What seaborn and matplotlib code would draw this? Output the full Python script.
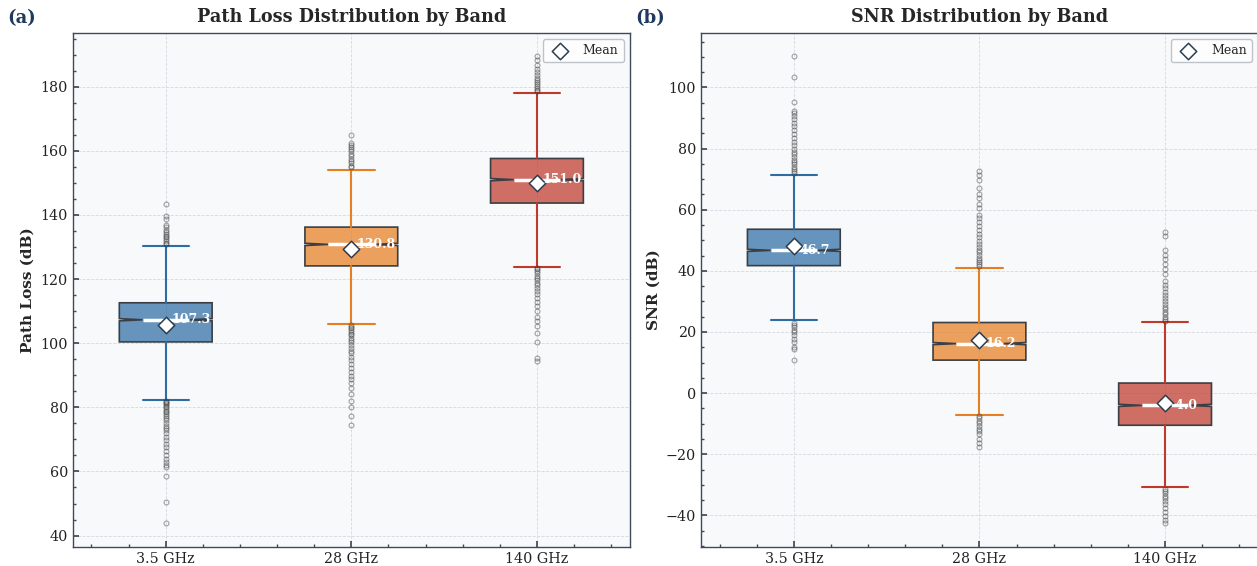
import numpy as np
import matplotlib
matplotlib.use("Agg")
import matplotlib.pyplot as plt
from matplotlib.colors import to_rgba
import seaborn as sns

# ---------------- data ----------------
bands = ["3.5 GHz", "28 GHz", "140 GHz"]
colors = ["#2e6da4", "#e67e22", "#c0392b"]

pl_q1 = [100.4, 124.1, 143.7]
pl_med = [107.3, 130.8, 151.0]
pl_q3 = [112.6, 136.2, 157.6]
pl_wlo = [82.3, 105.9, 123.9]
pl_whi = [130.4, 154.1, 177.9]
pl_mean = [105.7, 129.3, 150.0]
pl_out_35 = [143.4, 139.6, 138.8, 136.9, 136.2, 135.4, 134.6, 134.0, 133.5, 133.0, 132.4, 131.8, 131.2, 130.9,
             82.0, 81.7, 81.3, 80.9, 80.4, 80.0, 79.5, 79.0, 78.4, 77.9, 77.2, 76.6, 75.9, 75.1, 74.3, 73.6,
             72.8, 71.9, 70.8, 69.9, 68.7, 67.6, 66.5, 65.2, 64.0, 63.1, 62.0, 61.3, 58.6, 50.6, 43.8]
pl_out_28 = [164.9, 162.4, 161.8, 161.2, 160.5, 159.8, 159.1, 158.3, 157.5, 156.8, 156.1, 155.4, 154.8,
             105.6, 105.1, 104.6, 104.1, 103.6, 103.0, 102.4, 101.7, 101.0, 100.3, 99.5, 98.6, 97.7, 96.8,
             95.8, 94.6, 93.4, 92.2, 91.0, 89.8, 88.7, 87.5, 86.1, 84.3, 82.0, 80.1, 77.3, 74.6]
pl_out_140 = [178.5, 179.0, 179.6, 180.1, 180.7, 181.3, 182.0, 182.8, 183.6, 184.5, 185.6, 186.9, 188.2, 189.5,
              123.5, 123.0, 122.4, 121.8, 121.1, 120.4, 119.6, 118.8, 118.0, 117.1, 116.2, 115.2, 114.1,
              112.9, 111.5, 109.9, 108.2, 106.9, 105.3, 103.2, 100.4, 95.3, 94.4]

snr_q1 = [41.7, 10.8, -10.5]
snr_med = [46.7, 16.2, -4.0]
snr_q3 = [53.6, 23.1, 3.3]
snr_wlo = [23.8, -7.0, -30.6]
snr_whi = [71.4, 41.0, 23.2]
snr_mean = [48.1, 17.5, -3.2]
snr_out_35 = [72.0, 72.6, 73.3, 74.0, 74.8, 75.5, 76.3, 77.2, 78.1, 79.0, 80.0, 81.1, 82.2, 83.4, 84.6, 85.9,
              87.3, 88.5, 89.7, 90.8, 91.7, 92.4, 95.2, 103.4, 110.2,
              23.1, 22.4, 21.6, 20.8, 19.9, 18.9, 17.8, 16.6, 15.0, 14.3, 11.0]
snr_out_28 = [41.5, 42.1, 42.8, 43.5, 44.3, 45.1, 46.0, 46.9, 47.8, 48.8, 49.9, 51.0, 52.1, 53.3, 54.6, 55.9,
              57.2, 58.4, 60.5, 62.0, 63.7, 65.2, 67.1, 69.6, 71.3, 72.6,
              -7.5, -8.2, -9.0, -9.8, -10.7, -11.6, -12.5, -13.5, -14.9, -16.2, -17.5]
snr_out_140 = [23.7, 24.3, 25.0, 25.8, 26.6, 27.4, 28.3, 29.2, 30.1, 31.0, 32.1, 33.2, 34.3, 35.5, 36.8, 39.0,
               40.6, 42.3, 44.0, 45.3, 46.9, 51.5, 52.6,
               -31.2, -31.9, -32.7, -33.5, -34.4, -35.3, -36.2, -37.5, -38.9, -40.3, -41.6, -42.6]
notch_half = 0.35

# ---------------- style ----------------
sns.set_theme(style="ticks")
plt.rcParams["font.family"] = ["DejaVu Serif"]
plt.rcParams.update({
    "xtick.direction": "in", "ytick.direction": "in",
    "axes.edgecolor": "#3d4a5c", "axes.linewidth": 1.0,
    "xtick.color": "#3d4a5c", "ytick.color": "#3d4a5c",
    "xtick.labelcolor": "#222222", "ytick.labelcolor": "#222222",
})

fig = plt.figure(figsize=(12.57, 5.66), dpi=100)
ax1 = fig.add_axes([0.058, 0.034, 0.443, 0.908])
ax2 = fig.add_axes([0.5577, 0.034, 0.443, 0.908])


def draw(ax, q1, med, q3, wlo, whi, means, outs, title, ylabel, tag):
    ax.set_facecolor("#f8f9fb")
    stats = []
    for i in range(len(bands)):
        stats.append(dict(q1=q1[i], med=med[i], q3=q3[i], whislo=wlo[i], whishi=whi[i],
                          mean=means[i], fliers=outs[i],
                          cilo=med[i] - notch_half, cihi=med[i] + notch_half, label=bands[i]))
    pos = np.arange(len(bands))
    bp = ax.bxp(stats, positions=pos, widths=0.5, patch_artist=True, shownotches=True,
                showmeans=False, showfliers=True, manage_ticks=False,
                flierprops=dict(marker="o", markersize=3.5, markerfacecolor="none",
                                markeredgecolor="#333333", alpha=0.45, markeredgewidth=0.8),
                medianprops=dict(color="white", linewidth=2.5))
    for i, c in enumerate(colors):
        bp["boxes"][i].set_facecolor(to_rgba(c, 0.72))
        bp["boxes"][i].set_edgecolor("#3a3f45")
        bp["boxes"][i].set_linewidth(1.2)
        for w in bp["whiskers"][2 * i:2 * i + 2]:
            w.set_color(c); w.set_linewidth(1.5)
        for cp in bp["caps"][2 * i:2 * i + 2]:
            cp.set_color(c); cp.set_linewidth(1.5)
    sns.scatterplot(x=pos, y=means, marker="D", s=70, color="white", edgecolor="#2c3e50",
                    linewidth=1.1, zorder=5, label="Mean", ax=ax)
    for i in range(len(bands)):
        ax.text(pos[i] + 0.03, med[i], f"{med[i]:.1f}", color="white", fontweight="bold",
                fontsize=9, va="center", ha="left", zorder=6)
    ax.set_xlim(-0.5, 2.5)
    ax.set_xticks(pos)
    ax.set_xticklabels(bands)
    ax.minorticks_on()
    ax.tick_params(axis="both", which="major", labelsize=10.3, length=4)
    ax.tick_params(axis="both", which="minor", length=2)
    ax.grid(True, which="major", linestyle="--", linewidth=0.6, color="#d5d9df")
    ax.set_axisbelow(True)
    ax.set_title(title, fontsize=12.7, fontweight="bold", pad=8)
    ax.set_ylabel(ylabel, fontsize=11, fontweight="bold")
    ax.set_xlabel("")
    leg = ax.legend(loc="upper right", fontsize=9, frameon=True, fancybox=True,
                    borderpad=0.4, handletextpad=0.8)
    leg.get_frame().set_edgecolor("#b0b6bf")
    leg.get_frame().set_facecolor("white")
    for s in ["top", "right", "left", "bottom"]:
        ax.spines[s].set_visible(True)
    ax.text(-0.118, 1.029, tag, transform=ax.transAxes, fontsize=13, fontweight="bold",
            color="#1f3a5f", va="center", ha="left")


draw(ax1, pl_q1, pl_med, pl_q3, pl_wlo, pl_whi, pl_mean, [pl_out_35, pl_out_28, pl_out_140],
     "Path Loss Distribution by Band", "Path Loss (dB)", "(a)")
draw(ax2, snr_q1, snr_med, snr_q3, snr_wlo, snr_whi, snr_mean, [snr_out_35, snr_out_28, snr_out_140],
     "SNR Distribution by Band", "SNR (dB)", "(b)")

fig.savefig("out.png", dpi=100, facecolor="white")
